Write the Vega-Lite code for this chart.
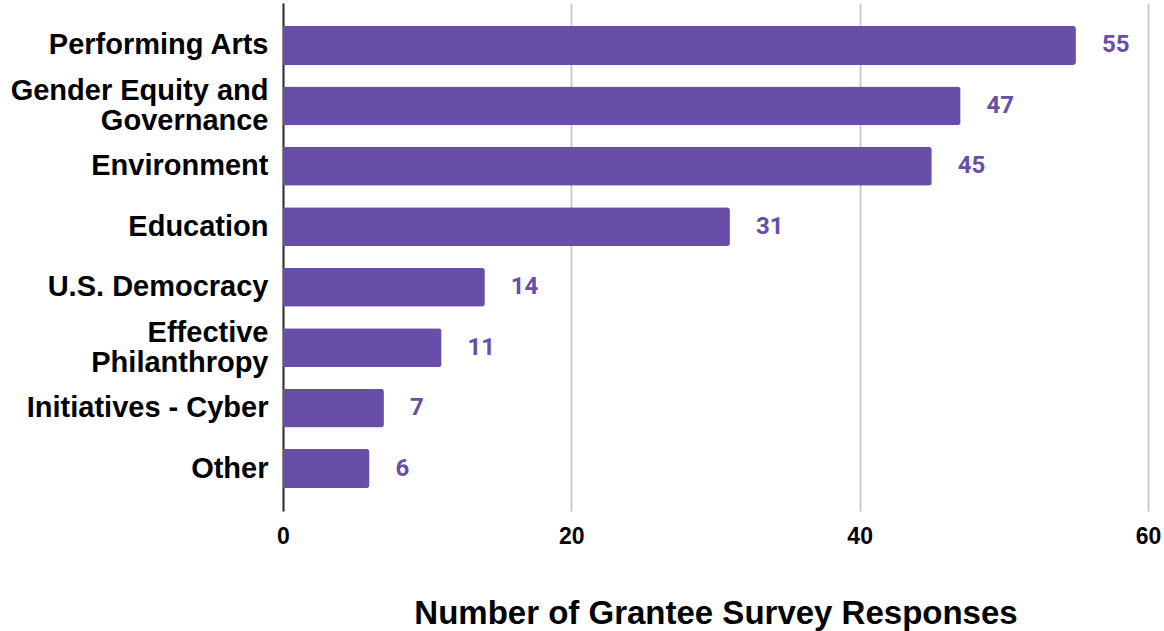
{
  "$schema": "https://vega.github.io/schema/vega-lite/v6.json",
  "autosize": "none",
  "width": 865,
  "height": 508,
  "padding": {"left": 283, "top": 3, "right": 16, "bottom": 120},
  "background": "white",
  "config": {"view": {"stroke": null}},
  "data": {"values": [
    {"category": "Performing Arts", "count": 55},
    {"category": "Gender Equity and|Governance", "count": 47},
    {"category": "Environment", "count": 45},
    {"category": "Education", "count": 31},
    {"category": "U.S. Democracy", "count": 14},
    {"category": "Effective|Philanthropy", "count": 11},
    {"category": "Initiatives - Cyber", "count": 7},
    {"category": "Other", "count": 6}
  ]},
  "encoding": {
    "y": {
      "field": "category", "type": "nominal", "sort": null,
      "scale": {"paddingInner": 0.356, "paddingOuter": 0.38},
      "axis": {
        "title": null, "ticks": false, "grid": false,
        "domainColor": "#333333", "domainWidth": 2,
        "labelFont": "Liberation Sans", "labelFontWeight": "bold", "labelFontSize": 29,
        "labelColor": "#000000", "labelPadding": 15, "labelLineHeight": 30,
        "labelOffset": {"condition": {"test": "indexof(datum.value, '|') >= 0", "value": -15}, "value": 0},
        "labelExpr": "split(datum.label, '|')", "labelLimit": 400
      }
    },
    "x": {
      "field": "count", "type": "quantitative",
      "scale": {"domain": [0, 60]},
      "axis": {
        "values": [0, 20, 40, 60], "domain": false, "ticks": false, "labelFlush": false,
        "gridColor": "#cccccc", "gridWidth": 2,
        "labelFont": "Liberation Sans", "labelFontWeight": "bold", "labelFontSize": 23,
        "labelColor": "#000000", "labelPadding": 14,
        "title": "Number of Grantee Survey Responses",
        "titleFont": "Liberation Sans", "titleFontWeight": "bold", "titleFontSize": 33,
        "titleColor": "#000000", "titlePadding": 49
      }
    }
  },
  "layer": [
    {"mark": {"type": "bar", "color": "#674ea7", "cornerRadiusEnd": 3}},
    {
      "mark": {"type": "text", "align": "left", "baseline": "middle", "dx": 26, "font": "Roboto", "fontWeight": "bold", "fontSize": 24, "color": "#674ea7"},
      "encoding": {"text": {"field": "count", "type": "quantitative"}}
    }
  ]
}
